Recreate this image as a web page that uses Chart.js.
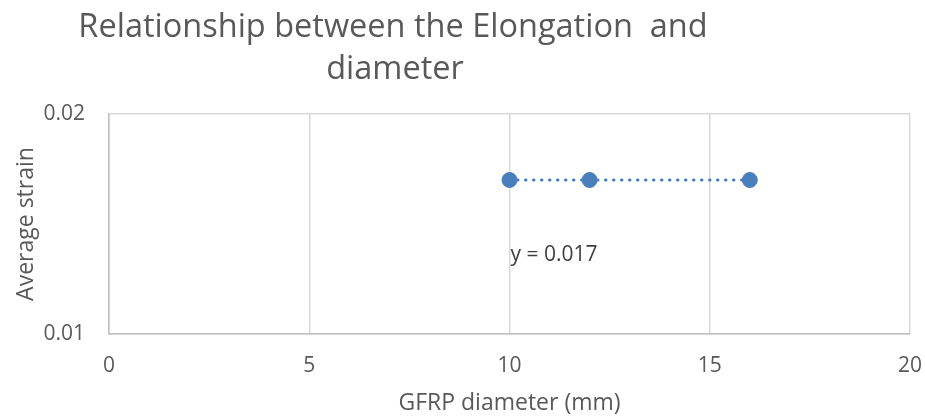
<!DOCTYPE html>
<html>
<head>
<meta charset="utf-8">
<title>Relationship between the Elongation and diameter</title>
<script src="https://cdn.jsdelivr.net/npm/chart.js@4"></script>
<style>
  html, body { margin: 0; padding: 0; background: #fff; }
  #wrap { width: 925px; height: 417px; position: relative; }
</style>
</head>
<body>
<div id="wrap"><canvas id="chart"></canvas></div>
<script>
// data
const diameters = [10, 12, 16];
const strains = [0.017, 0.017, 0.017];
const trendX = [10, 16];
const trendY = [0.017, 0.017];
const xTicks = [0, 5, 10, 15, 20];
const yTicks = [0.01, 0.02];
const titleLines = ['Relationship between the Elongation  and', 'diameter'];
const trendLabel = 'y = 0.017';

const blue = '#4A7EBB';
const grey = '#595959';
const gridGrey = '#d9d9d9';
const fontFamily = '"Open Sans", "Noto Sans", sans-serif';

// title + trendline label drawn by hand (title sits off-centre like Excel)
const extraText = {
    id: 'extraText',
    afterDraw(chart) {
        const ctx = chart.ctx;
        ctx.save();
        ctx.fillStyle = grey;
        ctx.textAlign = 'center';
        ctx.textBaseline = 'middle';
        ctx.font = '32.5px ' + fontFamily;
        ctx.fillText(titleLines[0], 393, 28);
        ctx.fillText(titleLines[1], 395, 70);

        const xs = chart.scales.x, ys = chart.scales.y;
        ctx.fillStyle = '#404040';
        ctx.textAlign = 'left';
        ctx.font = '21px ' + fontFamily;
        ctx.fillText(trendLabel, xs.getPixelForValue(10) + 1, ys.getPixelForValue(0.0136));
        ctx.restore();
    }
};

new Chart(document.getElementById('chart'), {
    type: 'scatter',
    data: {
        datasets: [{
            label: 'Linear (Average strain)',
            data: trendX.map((x, i) => ({ x: x, y: trendY[i] })),
            showLine: true,
            borderColor: blue,
            borderWidth: 3,
            borderDash: [0.5, 7.5],
            borderCapStyle: 'round',
            pointRadius: 0,
            order: 2
        }, {
            label: 'Average strain',
            data: diameters.map((x, i) => ({ x: x, y: strains[i] })),
            backgroundColor: blue,
            borderColor: blue,
            pointRadius: 7.5,
            order: 1
        }]
    },
    options: {
        responsive: true,
        maintainAspectRatio: false,
        animation: false,
        layout: { padding: { top: 114, right: 15, left: 0, bottom: 0 } },
        plugins: {
            legend: { display: false },
            tooltip: { enabled: false }
        },
        scales: {
            x: {
                type: 'linear',
                min: 0,
                max: 20,
                afterBuildTicks: axis => { axis.ticks = xTicks.map(v => ({ value: v })); },
                grid: { color: gridGrey, lineWidth: 1.5, drawTicks: false },
                border: { color: '#bfbfbf', width: 1.5 },
                ticks: { padding: 19, color: grey, font: { family: fontFamily, size: 21 } },
                title: {
                    display: true,
                    text: 'GFRP diameter (mm)',
                    color: grey,
                    font: { family: fontFamily, size: 23 },
                    padding: { top: 0, bottom: 0 }
                },
                afterFit: axis => {
                    axis.height = 83;
                    axis.paddingLeft = 0;
                    axis.paddingRight = 0;
                }
            },
            y: {
                min: 0.01,
                max: 0.02,
                afterBuildTicks: axis => { axis.ticks = yTicks.map(v => ({ value: v })); },
                grid: { color: gridGrey, lineWidth: 1.5, drawTicks: false },
                border: { color: '#bfbfbf', width: 1.5 },
                ticks: {
                    padding: 24,
                    color: grey,
                    font: { family: fontFamily, size: 21 },
                    callback: v => v.toFixed(2)
                },
                title: {
                    display: true,
                    text: 'Average strain',
                    color: grey,
                    font: { family: fontFamily, size: 23 },
                    padding: { top: 13, bottom: 0 }
                },
                afterFit: axis => {
                    axis.width = 109;
                    axis.paddingTop = 0;
                    axis.paddingBottom = 0;
                }
            }
        }
    },
    plugins: [extraText]
});
</script>
</body>
</html>
